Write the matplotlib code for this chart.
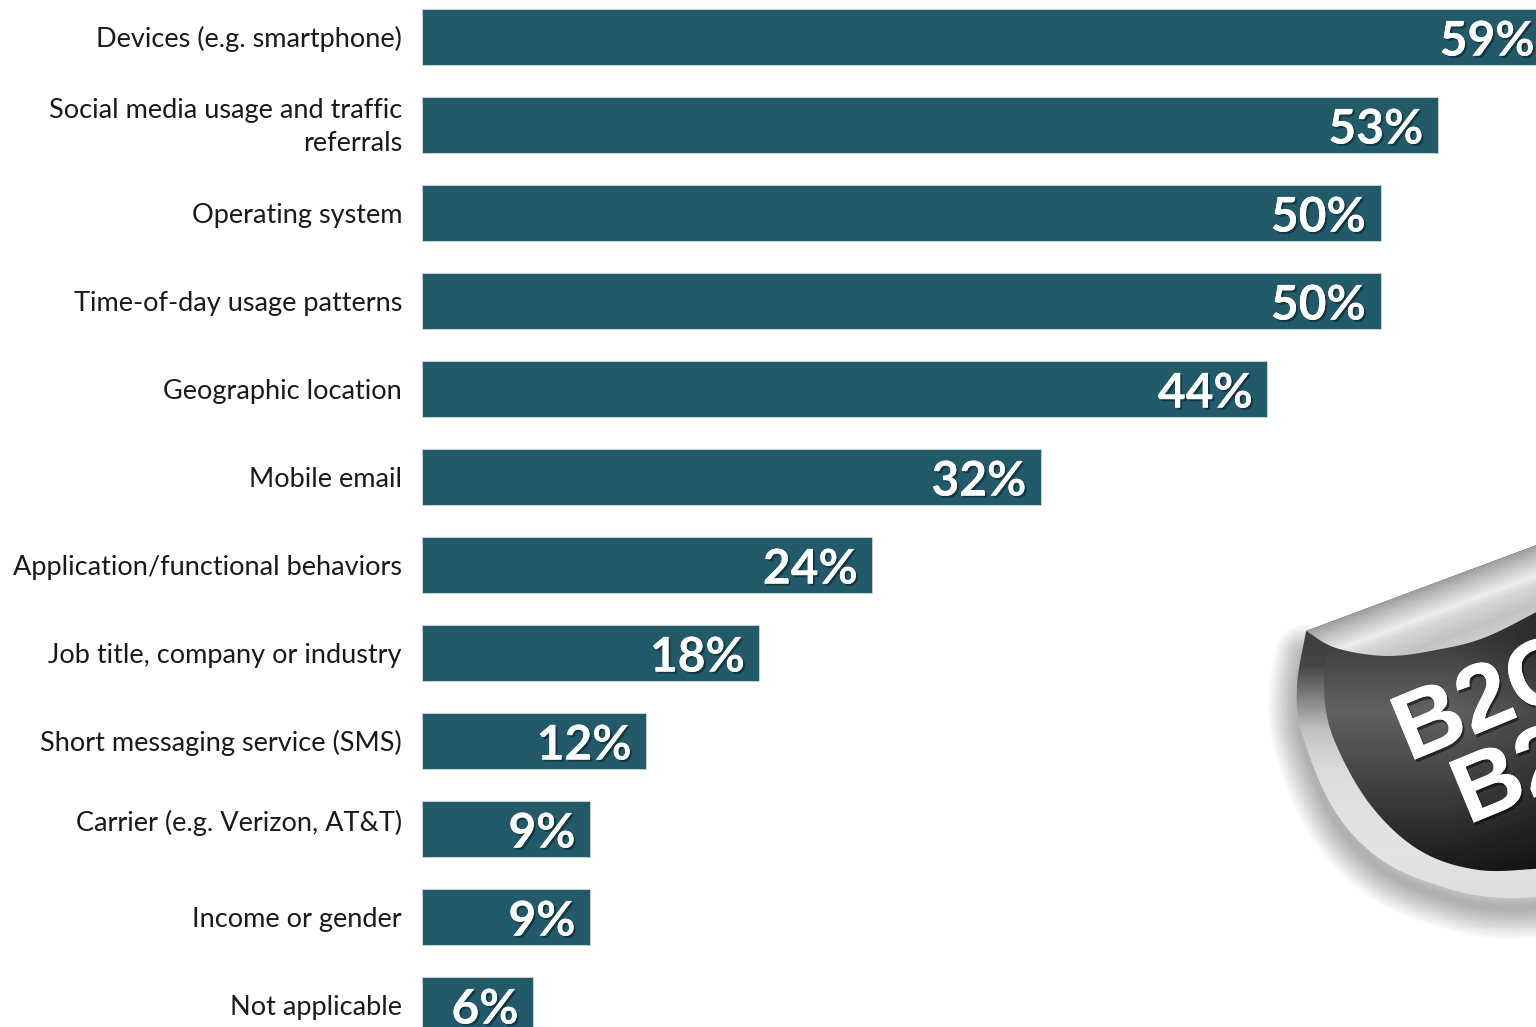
#!/usr/bin/env python3
import numpy as np
import matplotlib
matplotlib.use('Agg')
import matplotlib.pyplot as plt
import matplotlib.patheffects as pe
from matplotlib.path import Path
from matplotlib.patches import PathPatch, Polygon

plt.rcParams['font.family'] = ['Lato', 'DejaVu Sans']

categories = [
    'Devices (e.g. smartphone)',
    'Social media usage and traffic\nreferrals',
    'Operating system',
    'Time-of-day usage patterns',
    'Geographic location',
    'Mobile email',
    'Application/functional behaviors',
    'Job title, company or industry',
    'Short messaging service (SMS)',
    'Carrier (e.g. Verizon, AT&T)',
    'Income or gender',
    'Not applicable',
]
# bar lengths as drawn, they do not quite agree with the printed labels
values = [58.8, 53.0, 50.0, 50.0, 44.1, 32.3, 23.5, 17.6, 11.7, 8.77, 8.77, 5.8]
value_labels = ['59%', '53%', '50%', '50%', '44%', '32%', '24%', '18%', '12%', '9%', '9%', '6%']

W, H = 1536, 1027
PX_PER_UNIT = 19.17
BAR_COLOR = '#225a69'

fig = plt.figure(figsize=(W / 100, H / 100), dpi=100, facecolor='white')
ax = fig.add_axes([422 / W, 0, (W - 422) / W, 1])
ax.set_xlim(0, (W - 422) / PX_PER_UNIT)
ax.set_ylim((H - 37) / 88, -37 / 88)
ax.axis('off')

ypos = np.arange(len(categories))
ax.barh(ypos, values, height=56 / 88, color=BAR_COLOR, edgecolor='#d5e0e3', linewidth=0.5)

shadow = [pe.withSimplePatchShadow(offset=(1.5, -1.5), shadow_rgbFace='#0c2a33', alpha=0.7), pe.Normal()]
for y, v, lab in zip(ypos, values, value_labels):
    t = ax.annotate(lab, (v, y), xytext=(-10.5, -3.3), textcoords='offset points',
                    ha='right', va='center', color='white', fontsize=34.5, fontweight='bold',
                    annotation_clip=False)
    t.set_path_effects(shadow)

for y, lab in zip(ypos, categories):
    # the carrier label sits a bit high in the original
    dy = 8 if lab.startswith('Carrier') else 0
    ax.annotate(lab, (0, y), xytext=(-14.4, -1.6 + dy * 0.72), textcoords='offset points',
                ha='right', va='center', color='#1a1a1a', fontsize=19.5, linespacing=1.42,
                multialignment='right', annotation_clip=False)


# sticker in the corner, plain decoration so pixel coords are fine here
sx = fig.add_axes([0, 0, 1, 1], zorder=5)
sx.set_xlim(0, W)
sx.set_ylim(H, 0)
sx.axis('off')
sx.patch.set_alpha(0)


def smooth(pts, n=16):
    # catmull-rom through the points
    p = np.array(pts, dtype=float)
    p = np.vstack([2 * p[0] - p[1], p, 2 * p[-1] - p[-2]])
    out = []
    for i in range(1, len(p) - 2):
        for t in np.linspace(0, 1, n, endpoint=False):
            out.append(0.5 * (2 * p[i] + (p[i + 1] - p[i - 1]) * t
                              + (2 * p[i - 1] - 5 * p[i] + 4 * p[i + 1] - p[i + 2]) * t ** 2
                              + (3 * p[i] - p[i - 1] - 3 * p[i + 1] + p[i + 2]) * t ** 3))
    out.append(p[-2])
    return np.array(out)


gx, gy = np.meshgrid(np.arange(1270, 1537), np.arange(530, 951))


def fill_grad(poly, grey, z):
    im = sx.imshow(grey, cmap='gray', vmin=0, vmax=1, extent=(1270, 1537, 951, 530),
                   aspect='auto', interpolation='bilinear', zorder=z)
    im.set_clip_path(Polygon(poly, closed=True, transform=sx.transData))


outer_edge = smooth([(1306, 631), (1297, 687), (1303, 737), (1336, 813), (1386, 863),
                     (1453, 890), (1503, 898), (1550, 896)])
outer = np.vstack([outer_edge, [(1550, 540)]])
panel_edge = smooth([(1329, 644), (1324, 687), (1333, 737), (1369, 803), (1419, 850),
                     (1479, 870), (1550, 868)])
panel = np.vstack([panel_edge, [(1550, 560)]])
curl_edge = smooth([(1306, 631), (1336, 648), (1386, 656), (1436, 650), (1486, 637), (1550, 605)])
curl = np.vstack([curl_edge, [(1550, 540)]])

# soft shadow, stacked wide strokes with round ends so the start fades out
for lw in np.arange(44, 2, -3):
    sh = PathPatch(Path(outer_edge[4:] + [2, 10]), fill=False, ec='black', lw=lw, alpha=0.022,
                   zorder=1, capstyle='round')
    sx.add_patch(sh)

rim = np.interp(gy, [631, 665, 690, 730, 770, 850, 900], [.24, .27, .45, .76, .86, .89, .86])
fill_grad(outer, rim, 2)

# brighter in the mid-left, dark to the lower right
panel_grey = np.interp(gy, [640, 710, 770, 870], [.24, .38, .28, .1])
panel_grey = panel_grey * np.interp(gx, [1320, 1450, 1536], [1.0, 1.0, 0.75])
fill_grad(panel, panel_grey, 3)

# silver curl, shaded across the folded strip
ang = np.deg2rad(-20.5)
dist = (gx - 1306) * -np.sin(ang) + (gy - 631) * np.cos(ang)
curl_grey = np.interp(dist, [0, 10, 28, 36, 55, 80], [.62, .74, .93, .84, .76, .85])
fill_grad(curl, curl_grey, 4)

badge_shadow = [pe.withSimplePatchShadow(offset=(1.5, -2), shadow_rgbFace='black', alpha=0.5), pe.Normal()]
for txt, tx, ty in [('B2C', 1409, 762), ('B2B', 1468, 825)]:
    b = sx.text(tx, ty, txt, family='Liberation Sans', fontweight='bold', fontsize=68, color='white',
                rotation=22.5, rotation_mode='anchor', ha='left', va='baseline', zorder=6)
    b.set_path_effects(badge_shadow)

fig.savefig('out.png', dpi=100, facecolor='white')
